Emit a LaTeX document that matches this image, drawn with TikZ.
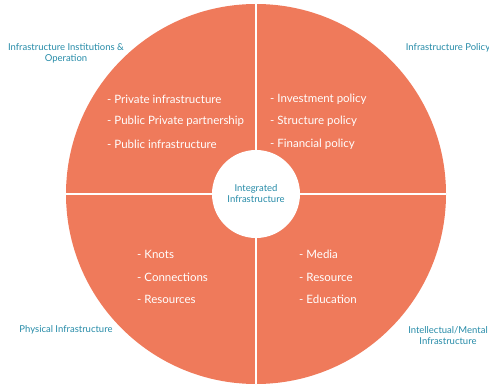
\documentclass[tikz,border=0pt]{standalone}
\usepackage{fontspec}
\setmainfont{Lato}
\usepackage{xcolor}
\definecolor{quadfill}{RGB}{239,122,91}
\definecolor{captext}{RGB}{38,139,168}
\tikzset{
  item/.style={anchor=west, inner sep=0pt, text=white,
    font=\fontsize{11.5}{13}\selectfont},
  corner/.style={align=center, inner sep=0pt, text=captext,
    font=\fontsize{9.5}{11}\selectfont},
  divider/.style={white, line width=1.5}
}

\begin{document}
\begin{tikzpicture}[x=1pt,y=-1pt]
  \useasboundingbox (0,0) rectangle (489,385);
  % the big disc and its four quarters
  \coordinate (mid) at (256,194);
  \fill[quadfill] (mid) circle[radius=190];
  \coordinate (west) at (66,194);
  \coordinate (east) at (446,194);
  \coordinate (north) at (256,4);
  \coordinate (south) at (256,384);
  \draw[divider] (west) -- (east);
  \draw[divider] (north) -- (south);
  % hub
  \node[circle, fill=white, minimum size=88pt, align=center, text=captext,
    font=\fontsize{9.5}{11}\selectfont] (hub) at (mid) {Integrated\\Infrastructure};
  % upper left quarter
  \node[item] (inst1) at (107,99) {- Private infrastructure};
  \node[item] (inst2) at (107,121) {- Public Private partnership};
  \node[item] (inst3) at (107,144) {- Public infrastructure};
  % upper right quarter
  \node[item] (pol1) at (270,99) {- Investment policy};
  \node[item] (pol2) at (270,121) {- Structure policy};
  \node[item] (pol3) at (270,144) {- Financial policy};
  % lower left quarter
  \node[item] (phys1) at (137,254) {- Knots};
  \node[item] (phys2) at (137,277) {- Connections};
  \node[item] (phys3) at (137,299) {- Resources};
  % lower right quarter
  \node[item] (intel1) at (299,254) {- Media};
  \node[item] (intel2) at (299,277) {- Resource};
  \node[item] (intel3) at (299,299) {- Education};
  % corner captions
  \node[corner] (capinst) at (66,53) {Infrastructure Institutions \&\\Operation};
  \node[corner] (cappol) at (448,48) {Infrastructure Policy};
  \node[corner] (capphys) at (66,330) {Physical Infrastructure};
  \node[corner] (capintel) at (448,336) {Intellectual/Mental\\Infrastructure};
\end{tikzpicture}
\end{document}
